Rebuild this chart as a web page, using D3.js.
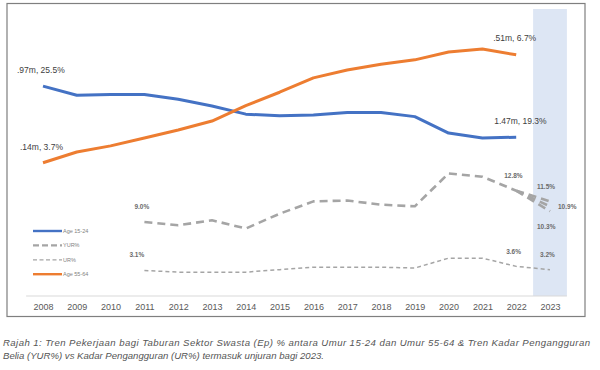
<!DOCTYPE html>
<html>
<head>
<meta charset="utf-8">
<script src="https://cdn.jsdelivr.net/npm/d3@7"></script>
<style>
  body { margin: 0; background: #fff; }
  svg { display: block; font-family: "Liberation Sans", Arial, sans-serif; }
  .tick-label { font-size: 9px; fill: #595959; }
  .lbl { font-size: 8.5px; fill: #404040; }
  .lbl-s { font-size: 6.5px; fill: #6b6b6b; font-weight: bold; }
  .legend text { font-size: 5.5px; fill: #7f7f7f; }
  .caption { font-size: 9.6px; fill: #555; font-style: italic; }
</style>
</head>
<body>
<svg width="600" height="370"></svg>
<script>
// years on x axis
const years = d3.range(2008, 2024);

// Ep % age 15-24 (primary, hidden axis)
const age1524 = [25.5, 24.4, 24.5, 24.5, 23.9, 23.1, 22.1, 21.9, 22.0, 22.3, 22.3, 21.8, 19.8, 19.2, 19.3];
// Ep % age 55-64 (secondary, hidden axis)
const age5564 = [3.7, 4.0, 4.17, 4.39, 4.61, 4.86, 5.29, 5.66, 6.06, 6.28, 6.44, 6.56, 6.78, 6.86, 6.7];
// youth unemployment rate, 2011-2022
const yurYears = d3.range(2011, 2023);
const yur = [9.0, 8.6, 9.2, 8.2, 10.0, 11.5, 11.6, 11.1, 10.9, 14.9, 14.5, 12.8];
// 2023 forecasts
const yurForecast = [11.5, 10.9, 10.3];
// unemployment rate, 2011-2023
const urYears = d3.range(2011, 2024);
const ur = [3.1, 2.9, 2.9, 2.9, 3.2, 3.5, 3.5, 3.5, 3.4, 4.6, 4.6, 3.6, 3.2];

const legendItems = [
  {name: "Age 15-24", key: "a1"},
  {name: "YUR%", key: "yur"},
  {name: "UR%", key: "ur"},
  {name: "Age 55-64", key: "a2"}
];

const caption = [
  "Rajah 1: Tren Pekerjaan bagi Taburan Sektor Swasta (Ep) % antara Umur 15-24 dan Umur 55-64 & Tren Kadar Pengangguran",
  "Belia (YUR%) vs Kadar Pengangguran (UR%) termasuk unjuran bagi 2023."
];

const styles = {
  a1: {stroke: "#4472c4", width: 3, dash: null},
  a2: {stroke: "#ed7d31", width: 3, dash: null},
  yur: {stroke: "#a5a5a5", width: 2.6, dash: "8,5"},
  ur: {stroke: "#a5a5a5", width: 1.5, dash: "4,3"}
};

const svg = d3.select("svg");

// chart frame
svg.append("rect")
  .attr("x", 7).attr("y", 3.5)
  .attr("width", 578).attr("height", 313)
  .attr("fill", "none").attr("stroke", "#7f7f7f").attr("stroke-width", 1.2);

const x = d3.scalePoint().domain(years).range([43, 550]);
const y1 = d3.scaleLinear().domain([0, 35]).range([296, 8]);
const y2 = d3.scaleLinear().domain([0, 8]).range([296, 8]);

// forecast band
const step = x.step();
svg.append("rect")
  .attr("x", x(2023) - step / 2).attr("y", 9)
  .attr("width", step).attr("height", y1(0) - 9)
  .attr("fill", "#dde6f4");

// x axis
const xAxis = d3.axisBottom(x).tickSize(0).tickPadding(8);
const gx = svg.append("g").attr("transform", `translate(0,${y1(0)})`).call(xAxis);
gx.select(".domain").attr("d", `M${x(2008) - step / 2},0H${x(2023) + step / 2}`)
  .attr("stroke", "#d9d9d9").attr("stroke-width", 1);
gx.selectAll("text").attr("class", "tick-label").attr("font-family", null).attr("font-size", null);

function draw(xs, vals, yScale, key) {
  const st = styles[key];
  const line = d3.line().x((d, i) => x(xs[i])).y(d => yScale(d)).curve(d3.curveLinear);
  svg.append("path")
    .datum(vals)
    .attr("d", line)
    .attr("fill", "none")
    .attr("stroke", st.stroke)
    .attr("stroke-width", st.width)
    .attr("stroke-dasharray", st.dash)
    .attr("stroke-linejoin", "round");
}

draw(urYears, ur, y1, "ur");
draw(yurYears, yur, y1, "yur");
yurForecast.forEach(v => draw([2022, 2023], [yur[yur.length - 1], v], y1, "yur"));
draw(years.slice(0, 15), age1524, y1, "a1");
draw(years.slice(0, 15), age5564, y2, "a2");

// data labels
const labels = [
  {t: ".97m, 25.5%", x: x(2008) - 26, y: y1(age1524[0]) - 13, c: "lbl"},
  {t: ".14m, 3.7%", x: x(2008) - 23, y: y2(age5564[0]) - 13, c: "lbl"},
  {t: ".51m, 6.7%", x: x(2022) - 23, y: y2(age5564[14]) - 14, c: "lbl"},
  {t: "1.47m, 19.3%", x: x(2022) - 22, y: y1(age1524[14]) - 13, c: "lbl"},
  {t: "9.0%", x: x(2011) - 10, y: y1(yur[0]) - 13, c: "lbl-s"},
  {t: "3.1%", x: x(2011) - 15, y: y1(ur[0]) - 13, c: "lbl-s"},
  {t: "12.8%", x: x(2022) - 12, y: y1(yur[11]) - 13, c: "lbl-s"},
  {t: "11.5%", x: x(2023) - 13, y: y1(yurForecast[0]) - 12, c: "lbl-s"},
  {t: "10.9%", x: x(2023) + 8, y: y1(yurForecast[1]) + 3, c: "lbl-s"},
  {t: "10.3%", x: x(2023) - 13, y: y1(yurForecast[2]) + 18, c: "lbl-s"},
  {t: "3.6%", x: x(2022) - 10, y: y1(ur[11]) - 12, c: "lbl-s"},
  {t: "3.2%", x: x(2023) - 10, y: y1(ur[12]) - 13, c: "lbl-s"}
];
svg.selectAll("text.dl")
  .data(labels)
  .enter()
  .append("text")
  .attr("class", d => "dl " + d.c)
  .attr("x", d => d.x)
  .attr("y", d => d.y)
  .text(d => d.t);

// legend
const lg = svg.append("g").attr("class", "legend");
legendItems.forEach(function(d, i) {
  const st = styles[d.key];
  const yy = 231 + i * 14.4;
  lg.append("line")
    .attr("x1", 33).attr("x2", 62).attr("y1", yy).attr("y2", yy)
    .attr("stroke", st.stroke)
    .attr("stroke-width", d.key === "ur" ? 1.3 : 2.4)
    .attr("stroke-dasharray", d.key === "yur" ? "6,3" : d.key === "ur" ? "4,2.5" : null);
  lg.append("text").attr("x", 63).attr("y", yy + 2).text(d.name);
});

// caption
svg.selectAll("text.caption")
  .data(caption)
  .enter()
  .append("text")
  .attr("class", "caption")
  .attr("x", 3)
  .attr("y", (d, i) => 346 + i * 13)
  .attr("textLength", (d, i) => i === 0 ? 587 : null)
  .attr("lengthAdjust", "spacing")
  .text(d => d);
</script>
</body>
</html>
